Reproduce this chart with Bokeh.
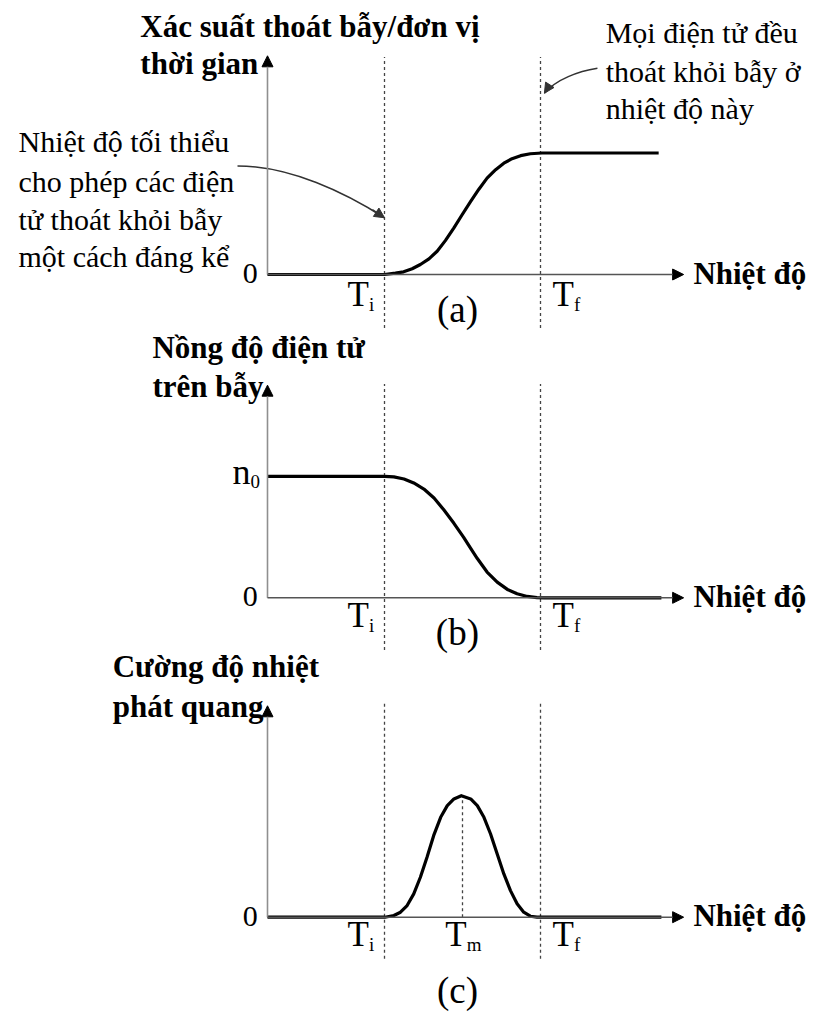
from bokeh.plotting import figure
from bokeh.models import Range1d, Label, Arrow, NormalHead
from bokeh.embed import file_html
from bokeh.resources import INLINE

# ---- characteristic temperatures (arbitrary units) ----
T_I, T_M, T_F = 3.0, 5.0, 7.0
TICK_LABELS = ["T", "T", "T"]
TICK_SUBS = ["i", "m", "f"]

# ---- (a) escape probability per unit time vs temperature ----
a_temp = [0.0, 3.0, 3.28, 3.49, 3.71, 3.92, 4.14, 4.35, 4.56, 4.78, 4.99,
          5.21, 5.42, 5.63, 5.85, 6.06, 6.27, 6.49, 6.74, 7.04, 10.03]
a_prob = [0.0, 0.0, 0.011, 0.022, 0.047, 0.082, 0.129, 0.191, 0.279, 0.383, 0.492,
          0.601, 0.702, 0.793, 0.863, 0.916, 0.953, 0.978, 0.994, 1.0, 1.0]

# ---- (b) trapped electron concentration vs temperature ----
b_temp = [0.0, 3.0, 3.24, 3.50, 3.75, 4.01, 4.27, 4.52, 4.78, 5.03, 5.21,
          5.38, 5.63, 5.89, 6.15, 6.40, 6.66, 6.91, 7.1, 10.1]
b_conc = [1.0, 1.0, 0.995, 0.978, 0.945, 0.895, 0.821, 0.724, 0.613, 0.497, 0.406,
          0.323, 0.212, 0.129, 0.069, 0.033, 0.011, 0.002, 0.0, 0.0]

# ---- (c) thermoluminescence intensity vs temperature ----
c_temp = [0.0, 3.01, 3.24, 3.41, 3.58, 3.75, 3.92, 4.09, 4.26, 4.44, 4.61, 4.78,
          4.97, 5.21, 5.38, 5.55, 5.72, 5.89, 6.06, 6.23, 6.40, 6.57, 6.74, 6.91, 10.1]
c_int = [0.0, 0.0, 0.014, 0.041, 0.096, 0.192, 0.329, 0.493, 0.671, 0.822, 0.918, 0.973,
         1.0, 0.973, 0.918, 0.822, 0.685, 0.521, 0.356, 0.219, 0.110, 0.041, 0.008, 0.0, 0.0]

# ---- texts ----
X_TITLE = "Nhiệt độ"
TITLE_A = ["Xác suất thoát bẫy/đơn vị", "thời gian"]
TITLE_B = ["Nồng độ điện tử", "trên bẫy"]
TITLE_C = ["Cường độ nhiệt", "phát quang"]
NOTE_LEFT = ["Nhiệt độ tối thiểu", "cho phép các điện", "tử thoát khỏi bẫy", "một cách đáng kể"]
NOTE_RIGHT = ["Mọi điện tử đều", "thoát khỏi bẫy ở", "nhiệt độ này"]
PANEL_TAGS = ["(a)", "(b)", "(c)"]

# ---- layout ----
W, H = 813, 1014
PX_PER_X = 39.0          # pixels per temperature unit
PX_PER_Y = 121.5         # pixels per value unit
ORIGIN_PX = 267          # y axis position from the left edge
AXIS_ROWS = {"a": 274.0, "b": 597.3, "c": 916.7}   # x axis rows from the top
FONT = "Liberation Serif"
RAISE = 0.36             # baseline correction, fraction of the font size


def row_range(axis_px):
    return Range1d(-(H - axis_px) / PX_PER_Y, axis_px / PX_PER_Y)


p = figure(width=W, height=H, output_backend="svg", toolbar_location=None,
           x_axis_location=None, y_axis_location=None,
           x_range=Range1d(-ORIGIN_PX / PX_PER_X, (W - ORIGIN_PX) / PX_PER_X),
           y_range=row_range(AXIS_ROWS["a"]),
           min_border=0, min_border_left=0, min_border_right=0,
           min_border_top=0, min_border_bottom=0)
p.extra_y_ranges = {"b": row_range(AXIS_ROWS["b"]), "c": row_range(AXIS_ROWS["c"])}
p.outline_line_color = None
p.background_fill_color = "white"
p.border_fill_color = "white"
p.grid.grid_line_color = None


def yname(panel):
    return "default" if panel == "a" else panel


def text(panel, x, y, s, size, bold=False, align="left"):
    p.add_layout(Label(x=x, y=y + RAISE * size / PX_PER_Y, text=s, text_font=FONT,
                       text_font_size=f"{size}px",
                       text_font_style="bold" if bold else "normal",
                       text_align=align, text_baseline="alphabetic",
                       text_color="black", y_range_name=yname(panel)))


def head(size=11, color="black"):
    return NormalHead(size=size, fill_color=color, line_color=color, line_width=1)


def axes(panel, y_top):
    # thin grey y axis and darker x axis, both ending in filled arrow heads
    p.add_layout(Arrow(end=head(), x_start=0, y_start=0, x_end=0, y_end=y_top,
                       line_color="#8f8f8f", line_width=1.6, y_range_name=yname(panel)))
    p.add_layout(Arrow(end=head(), x_start=0, y_start=0, x_end=10.67, y_end=0,
                       line_color="#555555", line_width=1.4, y_range_name=yname(panel)))
    text(panel, 10.92, -0.08, X_TITLE, 31, bold=True)
    text(panel, -0.25, -0.08, "0", 30, align="right")


def guides(panel, top, bottom, temps):
    p.segment(x0=temps, y0=[bottom] * len(temps), x1=temps, y1=[top] * len(temps),
              line_color="#444444", line_width=1.3, line_dash="3 3",
              y_range_name=yname(panel))


def tick_labels(panel, temps, idx, y):
    offsets = {"i": 2.05 - T_I, "m": 4.56 - T_M, "f": 7.31 - T_F}
    for t, k in zip(temps, idx):
        sub = TICK_SUBS[k]
        x = t + offsets[sub]
        text(panel, x, y, TICK_LABELS[k], 35)
        text(panel, x + 0.55, y - 0.035, sub, 19)


def two_line_title(panel, x, lines, y1, y2):
    text(panel, x, y1, lines[0], 31, bold=True)
    text(panel, x, y2, lines[1], 31, bold=True)


def curve(panel, xs, ys):
    p.line(xs, ys, line_color="black", line_width=3.2, line_join="round",
           y_range_name=yname(panel))


# ================= panel (a) =================
guides("a", 1.79, -0.44, [T_I, T_F])
axes("a", 1.80)
curve("a", a_temp, a_prob)
two_line_title("a", -3.26, TITLE_A, 1.951, 1.646)
for s, y in zip(NOTE_LEFT, [1.007, 0.677, 0.362, 0.060]):
    text("a", -6.385, y, s, 30)
for s, y in zip(NOTE_RIGHT, [1.899, 1.583, 1.281]):
    text("a", 8.67, y, s, 30)
tick_labels("a", [T_I, T_F], [0, 2], -0.265)
text("a", 4.87, -0.395, PANEL_TAGS[0], 37, align="center")

# curved pointer to T_i
p.bezier(x0=[-0.769], y0=[0.893], x1=[3.0], y1=[0.467],
         cx0=[0.59], cy0=[0.893], cx1=[2.0], cy1=[0.672],
         line_color="#333333", line_width=1.5)
p.add_layout(Arrow(end=head(10, "#333333"), x_start=2.69, y_start=0.533, x_end=3.0, y_end=0.467,
                   line_color="#333333", line_width=1.5))
# curved pointer to T_f
p.bezier(x0=[8.46], y0=[1.697], x1=[7.10], y1=[1.492],
         cx0=[7.97], cy0=[1.672], cx1=[7.41], cy1=[1.607],
         line_color="#333333", line_width=1.5)
p.add_layout(Arrow(end=head(10, "#333333"), x_start=7.23, y_start=1.557, x_end=7.10, y_end=1.492,
                   line_color="#333333", line_width=1.5))

# ================= panel (b) =================
guides("b", 1.76, -0.43, [T_I, T_F])
axes("b", 1.75)
curve("b", b_temp, b_conc)
two_line_title("b", -2.95, TITLE_B, 1.970, 1.649)
text("b", -0.436, 0.93, "n", 36, align="right")
text("b", -0.436, 0.90, "0", 19)
tick_labels("b", [T_I, T_F], [0, 2], -0.253)
text("b", 4.87, -0.393, PANEL_TAGS[1], 37, align="center")

# ================= panel (c) =================
guides("c", 1.767, -0.342, [T_I, T_F])
p.segment(x0=[T_M], y0=[0.0], x1=[T_M], y1=[max(c_int)],
          line_color="#444444", line_width=1.3, line_dash="3 3", y_range_name="c")
axes("c", 1.74)
curve("c", c_temp, c_int)
two_line_title("c", -3.97, TITLE_C, 1.973, 1.644)
tick_labels("c", [T_I, T_M, T_F], [0, 1, 2], -0.249)
text("c", 4.87, -0.71, PANEL_TAGS[2], 37, align="center")

open("out.html", "w").write(file_html(p, INLINE))
